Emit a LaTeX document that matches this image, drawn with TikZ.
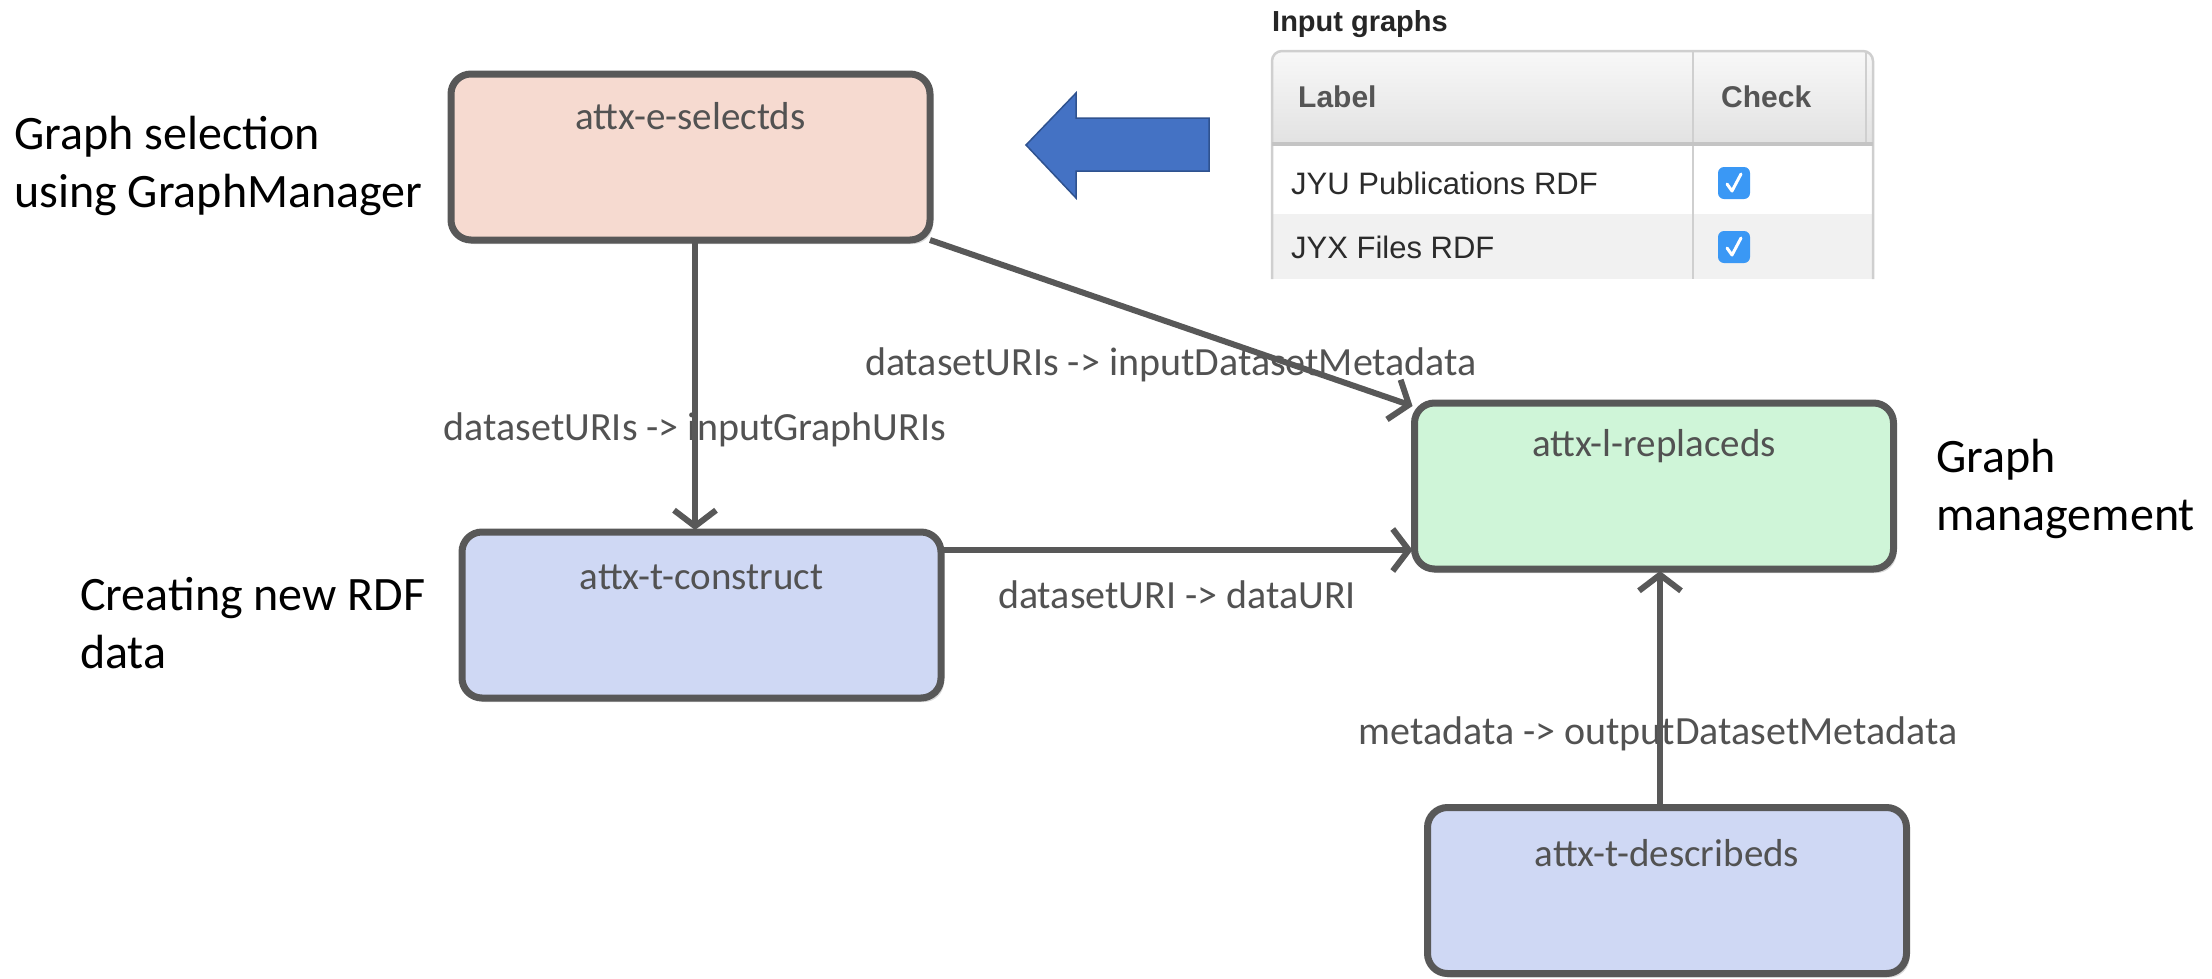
\documentclass[tikz,border=0pt]{standalone}
\usepackage{fontspec}
\setmainfont{Carlito}
\newfontfamily\uifont{Liberation Sans}
\usetikzlibrary{arrows.meta,shadows}

\definecolor{edgegray}{HTML}{585858}
\definecolor{labelgray}{HTML}{525252}
\definecolor{selfill}{HTML}{F6DAD0}
\definecolor{repfill}{HTML}{CFF5D8}
\definecolor{trfill}{HTML}{CFD8F4}
\definecolor{arrowblue}{HTML}{4472C4}
\definecolor{arrowedge}{HTML}{2F528F}
\definecolor{tblborder}{HTML}{CFCFCF}
\definecolor{tblsep}{HTML}{C4C4C4}
\definecolor{hdrtop}{HTML}{F8F8F8}
\definecolor{hdrbot}{HTML}{E2E2E2}
\definecolor{rowalt}{HTML}{F1F1F1}
\definecolor{chkblue}{HTML}{3A98F5}
\definecolor{hdrtext}{HTML}{555555}
\definecolor{celltext}{HTML}{2B2B2B}

\begin{document}
\begin{tikzpicture}[x=1pt,y=-1pt,
  procbox/.style={draw=edgegray, line width=7pt, rounded corners=20pt,
    minimum width=479pt, minimum height=166pt, outer sep=0pt, inner sep=0pt,
    drop shadow={shadow xshift=3pt, shadow yshift=-4pt, opacity=0.15, fill=black}},
  boxtitle/.style={text=labelgray, inner sep=0pt, font=\fontsize{39}{46}\selectfont},
  flow/.style={draw=edgegray, line width=6pt, -{Straight Barb[length=16pt,width=42pt]}},
  flowlabel/.style={text=labelgray, inner sep=0pt, font=\fontsize{40}{48}\selectfont},
  stage/.style={align=left, anchor=west, inner sep=0pt, font=\fontsize{48}{58}\selectfont},
  tbltext/.style={anchor=west, inner sep=0pt, text=celltext, font=\uifont\fontsize{31}{36}\selectfont},
  tblhead/.style={anchor=west, inner sep=0pt, text=hdrtext, font=\uifont\bfseries\fontsize{30}{36}\selectfont},
  chkbox/.style={fill=chkblue, rounded corners=6pt, minimum width=32pt, minimum height=32pt, inner sep=0pt},
  checkmark/.style={draw=white, line width=3pt, line cap=round, line join=round}
]
\useasboundingbox (0,0) rectangle (2212,978);

% ---- stage captions ----
\node[stage] (capsel) at (14,166) {Graph selection\\using GraphManager};
\node[stage] (capcon) at (80,623) {Creating new RDF\\data};
\node[stage] (caprep) at (1936,489) {Graph\\management};

% ---- pipeline steps ----
\node[procbox, fill=selfill] (sel) at (690.5,157) {};
\node[boxtitle] (selT) at (690.5,116) {attx-e-selectds};

\node[procbox, fill=trfill] (con) at (701.5,615) {};
\node[boxtitle] (conT) at (701.5,577) {attx-t-construct};

\node[procbox, fill=repfill] (rep) at (1654,486) {};
\node[boxtitle] (repT) at (1654,446) {attx-l-replaceds};

\node[procbox, fill=trfill] (des) at (1667,890.5) {};
\node[boxtitle] (desT) at (1667,853) {attx-t-describeds};

% ---- connector labels ----
\node[flowlabel] (lblA) at (695,430) {datasetURIs -> inputGraphURIs};
\node[flowlabel] (lblB) at (1171,365) {datasetURIs -> inputDatasetMetadata};
\node[flowlabel] (lblC) at (1177,595) {datasetURI -> dataURI};
\node[flowlabel] (lblD) at (1658,734) {metadata -> outputDatasetMetadata};

% ---- connectors ----
\coordinate (selS) at (sel.south -| 695,0);
\draw[flow] (selS) -- ([yshift=2pt]selS |- con.north);
\draw[flow] (sel.south east) -- ([shift={(-2,3)}]rep.north west);
\coordinate (conE) at (con.east |- 0,550);
\draw[flow] (conE) -- ([xshift=-2pt]conE -| rep.west);
\coordinate (desN) at (des.north -| 1660,0);
\draw[flow] (desN) -- ([yshift=-2pt]desN |- rep.south);

% ---- block arrow from the table ----
\draw[fill=arrowblue, draw=arrowedge, line width=1.5pt, line join=miter]
  (1026,145) -- (1076,93) -- (1076,118) -- (1209,118) -- (1209,171)
  -- (1076,171) -- (1076,198) -- cycle;

% ---- input graphs table ----
\node[anchor=west, inner sep=0pt, text=black!85, font=\uifont\bfseries\fontsize{29}{34}\selectfont]
  (tblT) at (1272,24) {Input graphs};
\shade[top color=hdrtop, bottom color=hdrbot]
  (1272,144) [rounded corners=10pt] -- (1272,51) -- (1873,51) [sharp corners] -- (1873,144) -- cycle;
\fill[rowalt] (1273,214) rectangle (1872,279);
\draw[tblborder, line width=2.5pt]
  (1272,279) [rounded corners=10pt] -- (1272,51) -- (1873,51) [sharp corners] -- (1873,279);
\draw[tblborder, line width=1.5pt] (1866,53) -- (1866,144);
\draw[tblborder, line width=2pt] (1693,51) -- (1693,279);
\draw[tblsep, line width=4pt] (1272,144) -- (1873,144);

\node[tblhead] (hdrL) at (1298,97) {Label};
\node[tblhead] (hdrC) at (1721,97) {Check};
\node[tbltext] (row1) at (1291,183) {JYU Publications RDF};
\node[tbltext] (row2) at (1291,247) {JYX Files RDF};

\node[chkbox] (chk1) at (1734,183) {};
\node[chkbox] (chk2) at (1734,247) {};
\draw[checkmark] ([shift={(-7,1)}]chk1.center) -- ([shift={(-2,8)}]chk1.center) -- ([shift={(7,-9)}]chk1.center);
\draw[checkmark] ([shift={(-7,1)}]chk2.center) -- ([shift={(-2,8)}]chk2.center) -- ([shift={(7,-9)}]chk2.center);
\end{tikzpicture}
\end{document}
